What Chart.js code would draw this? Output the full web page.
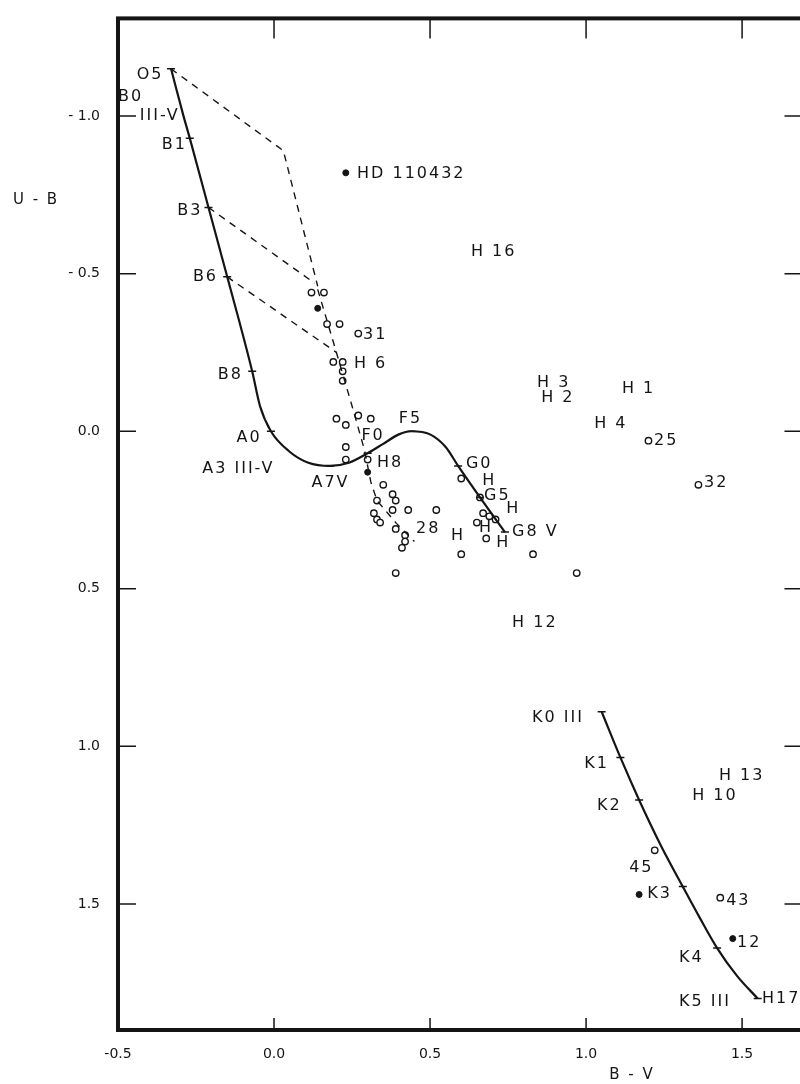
<!DOCTYPE html>
<html>
<head>
<meta charset="utf-8">
<script src="https://cdn.jsdelivr.net/npm/chart.js@4/dist/chart.umd.min.js"></script>
<style>
  html, body { margin: 0; padding: 0; background: #fff; overflow: hidden; width: 800px; height: 1084px; }
  #wrap { width: 810px; height: 1084px; }
</style>
</head>
<body>
<div id="wrap"><canvas id="cc" width="810" height="1084"></canvas></div>
<script>
// main sequence (solid curve)
const msBV = [-0.33, -0.29, -0.27, -0.21, -0.15, -0.07, -0.045, -0.01, 0.05, 0.11, 0.18, 0.24, 0.30, 0.35, 0.40, 0.44, 0.50, 0.55, 0.59, 0.66, 0.74];
const msUB = [-1.15, -1.00, -0.93, -0.71, -0.49, -0.19, -0.08, 0.00, 0.065, 0.10, 0.11, 0.10, 0.07, 0.04, 0.01, 0.00, 0.01, 0.05, 0.11, 0.21, 0.32];
// spectral type marks on the main sequence
const msTickBV = [-0.33, -0.27, -0.21, -0.15, -0.07, -0.01, 0.18, 0.30, 0.44, 0.59, 0.66, 0.74];
const msTickUB = [-1.15, -0.93, -0.71, -0.49, -0.19, 0.00, 0.11, 0.07, 0.00, 0.11, 0.21, 0.32];

// giant branch K0 III - K5 III
const giantBV = [1.05, 1.11, 1.17, 1.24, 1.31, 1.365, 1.42, 1.485, 1.55];
const giantUB = [0.89, 1.035, 1.17, 1.315, 1.445, 1.545, 1.64, 1.73, 1.80];
const giantTickBV = [1.05, 1.11, 1.17, 1.31, 1.42, 1.55];
const giantTickUB = [0.89, 1.035, 1.17, 1.445, 1.64, 1.80];

// reddening lines (dashed)
const redO5BV = [-0.33, 0.03, 0.14];
const redO5UB = [-1.15, -0.89, -0.46];
const redB3BV = [-0.21, 0.13];
const redB3UB = [-0.71, -0.47];
const redB6BV = [-0.15, 0.20];
const redB6UB = [-0.49, -0.25];
const redClusterBV = [0.14, 0.20, 0.25, 0.29, 0.31, 0.33, 0.39, 0.45];
const redClusterUB = [-0.45, -0.25, -0.08, 0.06, 0.16, 0.22, 0.29, 0.35];

// observed stars, open circles
const starBV = [0.12, 0.16, 0.17, 0.21, 0.27, 0.19, 0.22, 0.22, 0.22, 0.27, 0.20, 0.23, 0.31, 0.23, 0.23, 0.30, 0.35,
  0.38, 0.39, 0.33, 0.38, 0.32, 0.33, 0.34, 0.43, 0.52, 0.39, 0.42, 0.42, 0.41, 0.39, 0.60, 0.66, 0.65, 0.67,
  0.69, 0.71, 0.68, 0.60, 0.83, 0.97, 1.20, 1.36, 1.22, 1.43];
const starUB = [-0.44, -0.44, -0.34, -0.34, -0.31, -0.22, -0.22, -0.19, -0.16, -0.05, -0.04, -0.02, -0.04, 0.05, 0.09, 0.09, 0.17,
  0.20, 0.22, 0.22, 0.25, 0.26, 0.28, 0.29, 0.25, 0.25, 0.31, 0.33, 0.35, 0.37, 0.45, 0.15, 0.21, 0.29, 0.26,
  0.27, 0.28, 0.34, 0.39, 0.39, 0.45, 0.03, 0.17, 1.33, 1.48];
// filled dots
const dotBV = [0.23, 0.14, 0.30, 1.47, 1.17];
const dotUB = [-0.82, -0.39, 0.13, 1.61, 1.47];

// text annotations
const labelText = ["O5", "B0", "III-V", "B1", "B3", "B6", "B8", "A0", "A3 III-V", "A7V", "F0", "H8", "F5", "G0",
  "H", "G5", "H", "H", "H", "H", "G8 V", "28", "31", "H 6", "HD 110432", "H 16", "H 3", "H 2", "H 1", "H 4",
  "25", "32", "H 12", "K0 III", "K1", "K2", "H 13", "H 10", "45", "K3", "43", "12", "K4", "K5 III", "H17"];
const labelBV = [-0.44, -0.50, -0.43, -0.36, -0.31, -0.26, -0.18, -0.12, -0.23, 0.12, 0.28, 0.33, 0.40, 0.615,
  0.667, 0.673, 0.744, 0.657, 0.567, 0.712, 0.763, 0.455, 0.285, 0.256, 0.266, 0.631, 0.843, 0.856, 1.115, 1.026,
  1.218, 1.378, 0.763, 0.827, 0.994, 1.035, 1.426, 1.340, 1.138, 1.196, 1.449, 1.484, 1.298, 1.298, 1.564];
const labelUB = [-1.13, -1.06, -1.00, -0.91, -0.70, -0.49, -0.18, 0.02, 0.12, 0.165, 0.016, 0.10, -0.04, 0.105,
  0.158, 0.206, 0.247, 0.307, 0.333, 0.355, 0.32, 0.311, -0.307, -0.215, -0.818, -0.57, -0.152, -0.105, -0.136, -0.022,
  0.029, 0.165, 0.608, 0.909, 1.055, 1.188, 1.093, 1.157, 1.385, 1.467, 1.489, 1.622, 1.67, 1.812, 1.80];

const xTicks = [-0.5, 0.0, 0.5, 1.0, 1.5];
const yTicks = [-1.0, -0.5, 0.0, 0.5, 1.0, 1.5];

const ink = "#151515";
const pts = (xs, ys) => xs.map((x, i) => ({ x, y: ys[i] }));

function dashed(xs, ys) {
  return {
    data: pts(xs, ys), showLine: true, borderColor: ink, borderWidth: 1.4,
    borderDash: [7, 6], pointRadius: 0, tension: 0,
  };
}

const frame = {
  id: "frame",
  afterDraw(chart) {
    const { ctx, chartArea: a, scales } = chart;
    ctx.save();
    ctx.strokeStyle = ink;
    ctx.lineWidth = 1.5;
    ctx.beginPath();
    xTicks.forEach((v) => {
      if (v <= -0.5) return;
      const px = scales.x.getPixelForValue(v);
      ctx.moveTo(px, a.bottom); ctx.lineTo(px, a.bottom - 12);
      ctx.moveTo(px, a.top); ctx.lineTo(px, a.top + 20);
    });
    yTicks.forEach((v) => {
      const py = scales.y.getPixelForValue(v);
      ctx.moveTo(a.left, py); ctx.lineTo(a.left + 18, py);
      ctx.moveTo(a.right, py); ctx.lineTo(a.right - 20, py);
    });
    ctx.stroke();
    ctx.lineWidth = 4;
    ctx.strokeRect(a.left, a.top, a.right - a.left, a.bottom - a.top);

    // annotations
    ctx.fillStyle = ink;
    ctx.font = "16px 'DejaVu Sans'";
    ctx.letterSpacing = "2px";
    ctx.textAlign = "left";
    ctx.textBaseline = "middle";
    labelText.forEach((t, i) => {
      ctx.fillText(t, scales.x.getPixelForValue(labelBV[i]), scales.y.getPixelForValue(labelUB[i]));
    });
    // axis titles
    ctx.font = "15px 'DejaVu Sans'";
    ctx.textAlign = "center";
    ctx.fillText("U - B", 36, 200);
    ctx.fillText("B - V", 632, 1075);
    ctx.restore();
  },
};

new Chart(document.getElementById("cc"), {
  type: "scatter",
  data: {
    datasets: [
      { data: pts(msBV, msUB), showLine: true, borderColor: ink, borderWidth: 2.2, pointRadius: 0, cubicInterpolationMode: "monotone" },
      { data: pts(giantBV, giantUB), showLine: true, borderColor: ink, borderWidth: 2.2, pointRadius: 0, cubicInterpolationMode: "monotone" },
      { data: pts(msTickBV, msTickUB), pointStyle: "line", pointRadius: 4, borderColor: ink, borderWidth: 1.5 },
      { data: pts(giantTickBV, giantTickUB), pointStyle: "line", pointRadius: 4, borderColor: ink, borderWidth: 1.5 },
      dashed(redO5BV, redO5UB),
      dashed(redB3BV, redB3UB),
      dashed(redB6BV, redB6UB),
      dashed(redClusterBV, redClusterUB),
      { data: pts(starBV, starUB), pointRadius: 3.2, borderColor: ink, backgroundColor: "#fff", borderWidth: 1.4 },
      { data: pts(dotBV, dotUB), pointRadius: 3, borderColor: ink, backgroundColor: ink, borderWidth: 1 },
    ],
  },
  options: {
    responsive: false,
    animation: false,
    layout: { padding: { top: 17, right: 5, left: 0, bottom: 0 } },
    plugins: { legend: { display: false }, tooltip: { enabled: false } },
    scales: {
      x: {
        type: "linear", min: -0.5, max: 1.70,
        grid: { display: false }, border: { display: false },
        afterBuildTicks: (s) => { s.ticks = xTicks.map((v) => ({ value: v })); },
        afterFit: (s) => { s.height = 54; },
        ticks: { color: ink, padding: 8, font: { family: "DejaVu Sans", size: 14 }, callback: (v) => v.toFixed(1) },
      },
      y: {
        type: "linear", min: -1.31, max: 1.90, reverse: true,
        grid: { display: false }, border: { display: false },
        afterBuildTicks: (s) => { s.ticks = yTicks.map((v) => ({ value: v })); },
        afterFit: (s) => { s.width = 118; },
        ticks: { color: ink, padding: 10, font: { family: "DejaVu Sans", size: 14 }, callback: (v) => (v < 0 ? "- " + (-v).toFixed(1) : v.toFixed(1)) },
      },
    },
  },
  plugins: [frame],
});
</script>
</body>
</html>
